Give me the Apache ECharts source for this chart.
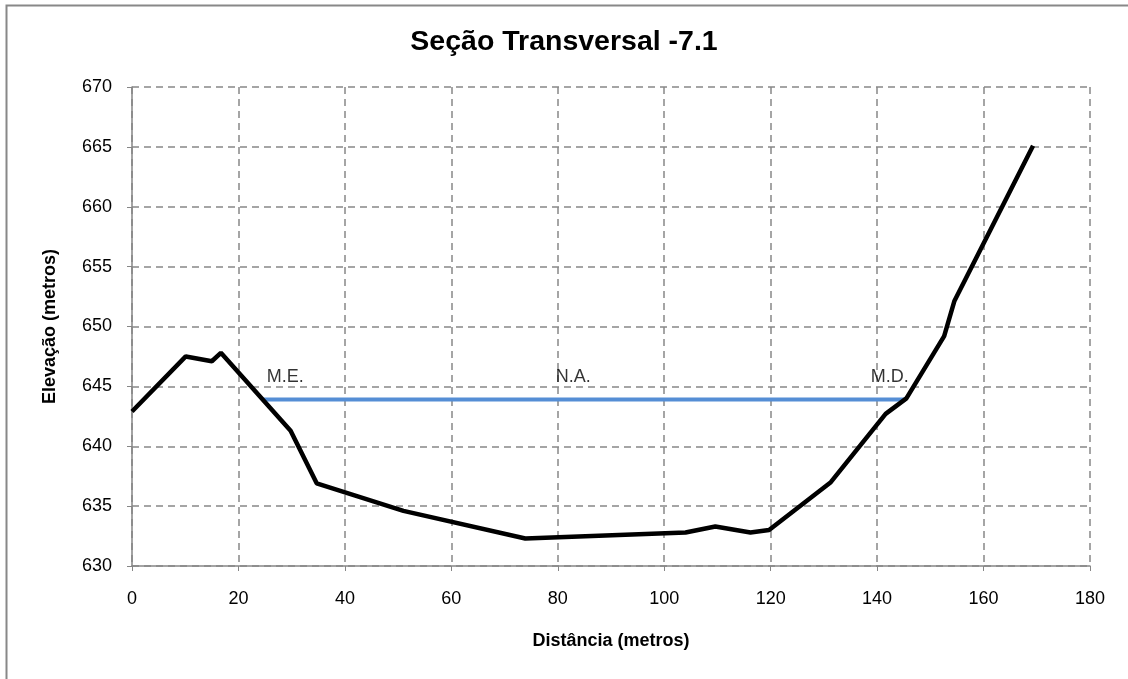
<!DOCTYPE html>
<html><head><meta charset="utf-8">
<script src="https://cdn.jsdelivr.net/npm/echarts@6/dist/echarts.min.js"></script>
<style>html,body{margin:0;padding:0;background:#fff}#c{width:1128px;height:679px}</style>
</head><body><div id="c"></div>
<script>
const distance = [0, 10.1, 15.0, 16.7, 29.8, 34.7, 51.0, 73.9, 104.0, 109.6, 116.2, 119.7, 131.3, 141.6, 145.5, 152.6, 154.5, 169.3];
const elevation = [642.9, 647.5, 647.1, 647.8, 641.3, 636.9, 634.6, 632.3, 632.8, 633.3, 632.8, 633.0, 637.0, 642.7, 644.0, 649.2, 652.1, 665.1];
const waterX = [24.6, 145.4];
const waterY = [643.9, 643.9];
const labelNames = ['M.E.', 'N.A.', 'M.D.'];
const labelX = [25.3, 79.6, 138.8];
const labelY = [645.8, 645.8, 645.8];

const chart = echarts.init(document.getElementById('c'));
const font = 'Liberation Sans, Arial, sans-serif';
chart.setOption({
  animation: false,
  backgroundColor: '#fff',
  graphic: [{type: 'rect', shape: {x: 6.5, y: 5.5, width: 1200, height: 720}, style: {fill: 'none', stroke: '#888', lineWidth: 2}, silent: true}],
  title: {text: 'Seção Transversal -7.1', left: 'center', top: 23,
    textStyle: {fontFamily: font, fontSize: 28.5, fontWeight: 'bold', color: '#000'}},
  grid: {left: 132, right: 38, top: 87, bottom: 113},
  xAxis: {type: 'value', min: 0, max: 180, interval: 20,
    name: 'Distância (metros)', nameLocation: 'middle', nameGap: 66,
    nameTextStyle: {fontFamily: font, fontSize: 18, fontWeight: 'bold', color: '#000'},
    axisLine: {show: true, lineStyle: {color: '#868686', width: 1.5}},
    axisTick: {show: true, length: 5, lineStyle: {color: '#868686'}},
    axisLabel: {fontFamily: font, fontSize: 18, color: '#000', margin: 24},
    splitLine: {show: true, lineStyle: {color: '#888', type: [7, 5], width: 1.5}}},
  yAxis: {type: 'value', min: 630, max: 670, interval: 5,
    name: 'Elevação (metros)', nameLocation: 'middle', nameGap: 73,
    nameTextStyle: {fontFamily: font, fontSize: 18, fontWeight: 'bold', color: '#000'},
    axisLine: {show: true, lineStyle: {color: '#868686', width: 1.5}},
    axisTick: {show: true, length: 5, lineStyle: {color: '#868686'}},
    axisLabel: {fontFamily: font, fontSize: 18, color: '#000', margin: 20},
    splitLine: {show: true, lineStyle: {color: '#888', type: [7, 5], width: 1.5}}},
  series: [
    {type: 'line', data: waterX.map((x, i) => [x, waterY[i]]), symbol: 'none',
      lineStyle: {color: '#558ED5', width: 4}, z: 3},
    {type: 'line', data: distance.map((x, i) => [x, elevation[i]]), symbol: 'none',
      lineStyle: {color: '#000', width: 4.5}, z: 4},
    {type: 'scatter', data: labelX.map((x, i) => [x, labelY[i], labelNames[i]]), symbolSize: 0,
      label: {show: true, position: 'right', distance: 0, formatter: p => p.data[2],
        fontFamily: font, fontSize: 18, color: '#000'}, z: 5}
  ]
});
</script></body></html>
